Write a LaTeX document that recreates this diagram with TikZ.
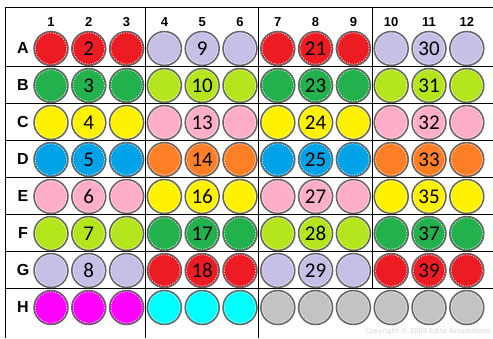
\documentclass[tikz,border=0pt]{standalone}
\usepackage{fontspec}
\setmainfont{Carlito}
\newfontfamily\hdrfont{Liberation Sans}
\newfontfamily\copyfont{DejaVu Sans}
\definecolor{pred}{HTML}{ED1C24}
\definecolor{pgreen}{HTML}{22B14C}
\definecolor{pyellow}{HTML}{FFF200}
\definecolor{pblue}{HTML}{00A2E8}
\definecolor{ppink}{HTML}{FFAEC9}
\definecolor{plime}{HTML}{B5E61D}
\definecolor{plav}{HTML}{C8BFE7}
\definecolor{porange}{HTML}{FF7F27}
\definecolor{pmag}{HTML}{FF00FF}
\definecolor{pcyan}{HTML}{00FFFF}
\definecolor{pgray}{HTML}{C3C3C3}
\definecolor{wellrim}{HTML}{666666}
\definecolor{copygray}{HTML}{D6D6D6}
\tikzset{
  well/.style={circle, draw=wellrim, line width=1.5pt, minimum size=34pt, inner sep=0pt, font=\fontsize{21}{21}\selectfont},
  inring/.style={draw=white, line width=0.5pt, dash pattern=on 1.2pt off 1.3pt},
  gridline/.style={draw=black, line width=1pt},
  hdr/.style={font=\hdrfont\bfseries\fontsize{13}{13}\selectfont, inner sep=0pt},
  rowlab/.style={font=\hdrfont\bfseries\fontsize{16}{16}\selectfont, inner sep=0pt},
}
\begin{document}
\begin{tikzpicture}[x=1pt,y=-1pt]
\useasboundingbox (0,0) rectangle (493,338);
\fill[white] (0,0) rectangle (493,338);
% grid
\draw[gridline] (5,338) -- (5,7) -- (493,7);
\foreach \k in {1,...,7} {
  \draw[gridline] (5,{48+37*(\k-1)+18.5}) -- (493,{48+37*(\k-1)+18.5});
}
\draw[gridline] (145.5,7) -- (145.5,338);
\draw[gridline] (258.9,7) -- (258.9,338);
\draw[gridline] (372.3,7) -- (372.3,288.5);
% headers
\foreach \c in {1,...,12} {
  \node[hdr] (h\c) at ({51+37.8*(\c-1)},22) {\c};
}
% wells
\foreach \r/\L/\ca/\cb/\cc/\cd/\na/\nb/\nc/\nd in {
  1/A/pred/plav/pred/plav/2/9/21/30,
  2/B/pgreen/plime/pgreen/plime/3/10/23/31,
  3/C/pyellow/ppink/pyellow/ppink/4/13/24/32,
  4/D/pblue/porange/pblue/porange/5/14/25/33,
  5/E/ppink/pyellow/ppink/pyellow/6/16/27/35,
  6/F/plime/pgreen/plime/pgreen/7/17/28/37,
  7/G/plav/pred/plav/pred/8/18/29/39,
  8/H/pmag/pcyan/pgray/pgray/{}/{}/{}/{}} {
  \node[rowlab] (r\L) at (23,{48+37*(\r-1)}) {\L};
  \foreach \g/\col/\num in {0/\ca/\na,1/\cb/\nb,2/\cc/\nc,3/\cd/\nd} {
    \foreach \k in {1,2,3} {
      \pgfmathtruncatemacro\c{3*\g+\k}
      \node[well, fill=\col] (w\L\c) at ({51+37.8*(\c-1)},{48.5+37*(\r-1)}) {\ifnum\k=2 \num\fi};
      \draw[inring] (w\L\c.center) circle (15.6);
    }
  }
}
\node[font=\copyfont\fontsize{6.8}{6.8}\selectfont, text=copygray, anchor=east, inner sep=0pt] (copy) at (491,332) {Copyright © 2009 Edita Aksamitiene};
\end{tikzpicture}
\end{document}
